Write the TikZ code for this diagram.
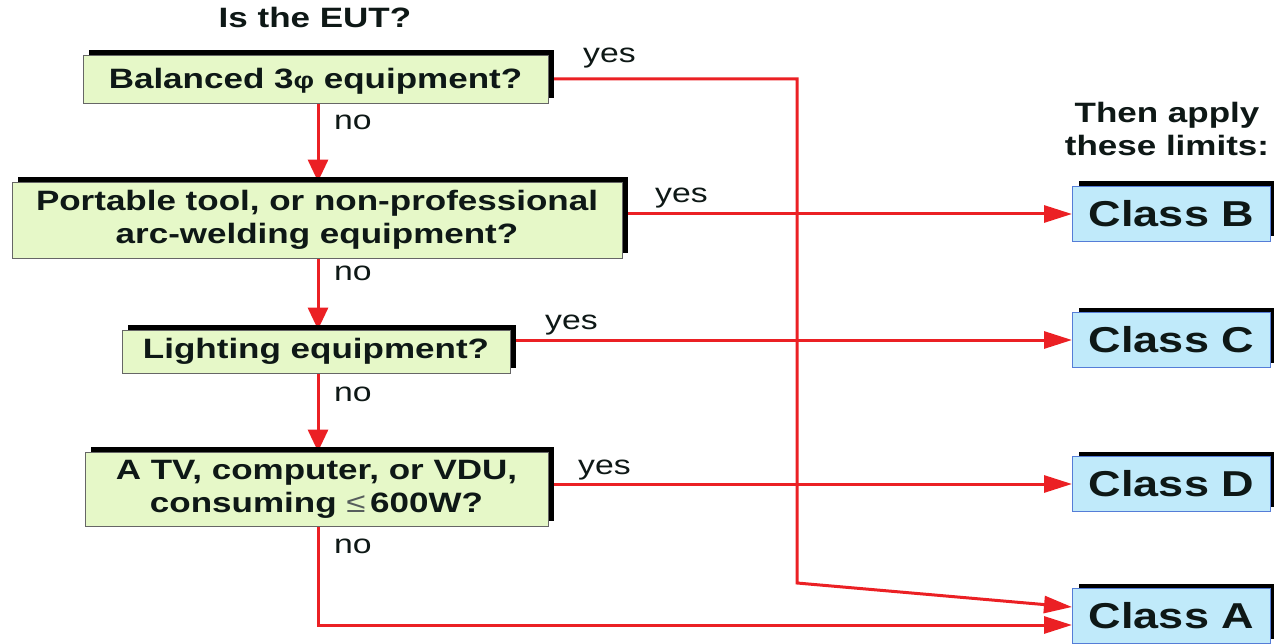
\documentclass[tikz,border=0pt]{standalone}
\usepackage{fontspec}
\setmainfont{Liberation Sans}[FakeStretch=1.25]
\usetikzlibrary{arrows.meta,shadows}
\definecolor{qgreen}{RGB}{230,248,200}
\definecolor{qblue}{RGB}{192,234,250}
\definecolor{lred}{RGB}{235,32,36}
\definecolor{bblue}{RGB}{85,125,215}
\definecolor{ink}{RGB}{14,24,22}
\pgfdeclarelayer{background}
\pgfsetlayers{background,main}
\begin{document}
\begin{tikzpicture}[x=1pt,y=-1pt,
  qbox/.style={draw=gray!80!black, line width=0.8pt, fill=qgreen, align=center,
    inner sep=0pt, text=ink, font=\fontsize{28}{33}\selectfont\bfseries,
    general shadow={fill=black, shadow xshift=6pt, shadow yshift=5pt}},
  cbox/.style={draw=bblue, line width=1pt, fill=qblue, inner sep=0pt,
    minimum width=198pt, minimum height=55pt, text=ink,
    font=\fontsize{36}{40}\selectfont\bfseries,
    general shadow={fill=black, shadow xshift=6pt, shadow yshift=5pt}},
  lbl/.style={font=\fontsize{27}{28}\selectfont, text=ink, anchor=base west, inner sep=0pt},
  head/.style={font=\fontsize{28}{33}\selectfont\bfseries, text=ink, anchor=base, inner sep=0pt},
  flowh/.style={draw=lred, line width=3pt, -{Triangle[length=28pt,width=17pt]}},
  flowv/.style={draw=lred, line width=3pt, -{Triangle[length=22pt,width=20pt]}},
  ]
\useasboundingbox (0,0) rectangle (1274,644);

\node[head] (title) at (315,28) {Is the EUT?};
\node[head] (then1) at (1167,123) {Then apply};
\node[head] (then2) at (1167,156) {these limits:};

\node[qbox, minimum width=465pt, minimum height=48pt, text depth=1pt] (b1) at (315.5,79) {Balanced 3{\fontsize{23}{23}\selectfont φ} equipment?};
\node[qbox, minimum width=610pt, minimum height=76pt] (b2) at (317,220) {Portable tool, or non-professional\\arc-welding equipment?};
\node[qbox, minimum width=388pt, minimum height=43pt] (b3) at (316,351.5) {Lighting equipment?};
\node[qbox, minimum width=463pt, minimum height=74pt] (b4) at (316.5,489) {A TV, computer, or VDU,\\consuming {\mdseries\color{ink!70}≤}\,600W?};

\node[cbox] (cB) at (1171.5,214) {Class B};
\node[cbox] (cC) at (1171.5,340) {Class C};
\node[cbox] (cD) at (1171.5,484) {Class D};
\node[cbox] (cA) at (1171.5,616) {Class A};

\coordinate (spine) at (318,0);
\coordinate (j2) at (797,583);

\begin{pgfonlayer}{background}
\draw[flowv] (b1.south -| spine) -- (b2.north -| spine);
\draw[flowv] (b2.south -| spine) -- (b3.north -| spine);
\draw[flowv] (b3.south -| spine) -- (b4.north -| spine);
\draw[flowh] (b1.east) -| (j2) -- ([yshift=9pt]cA.west);
\draw[flowh] (b2.east |- cB.west) -- (cB.west);
\draw[flowh] (b3.east |- cC.west) -- (cC.west);
\draw[flowh] (b4.east |- cD.west) -- (cD.west);
\draw[flowh] (b4.south -| spine) |- ([yshift=-9pt]cA.west);
\end{pgfonlayer}

\node[lbl] (y1) at (583,63) {yes};
\node[lbl] (y2) at (655,203) {yes};
\node[lbl] (y3) at (545,330) {yes};
\node[lbl] (y4) at (578,474) {yes};
\node[lbl] (n1) at (334,130) {no};
\node[lbl] (n2) at (334,281) {no};
\node[lbl] (n3) at (334,401) {no};
\node[lbl] (n4) at (334,553) {no};
\end{tikzpicture}
\end{document}
